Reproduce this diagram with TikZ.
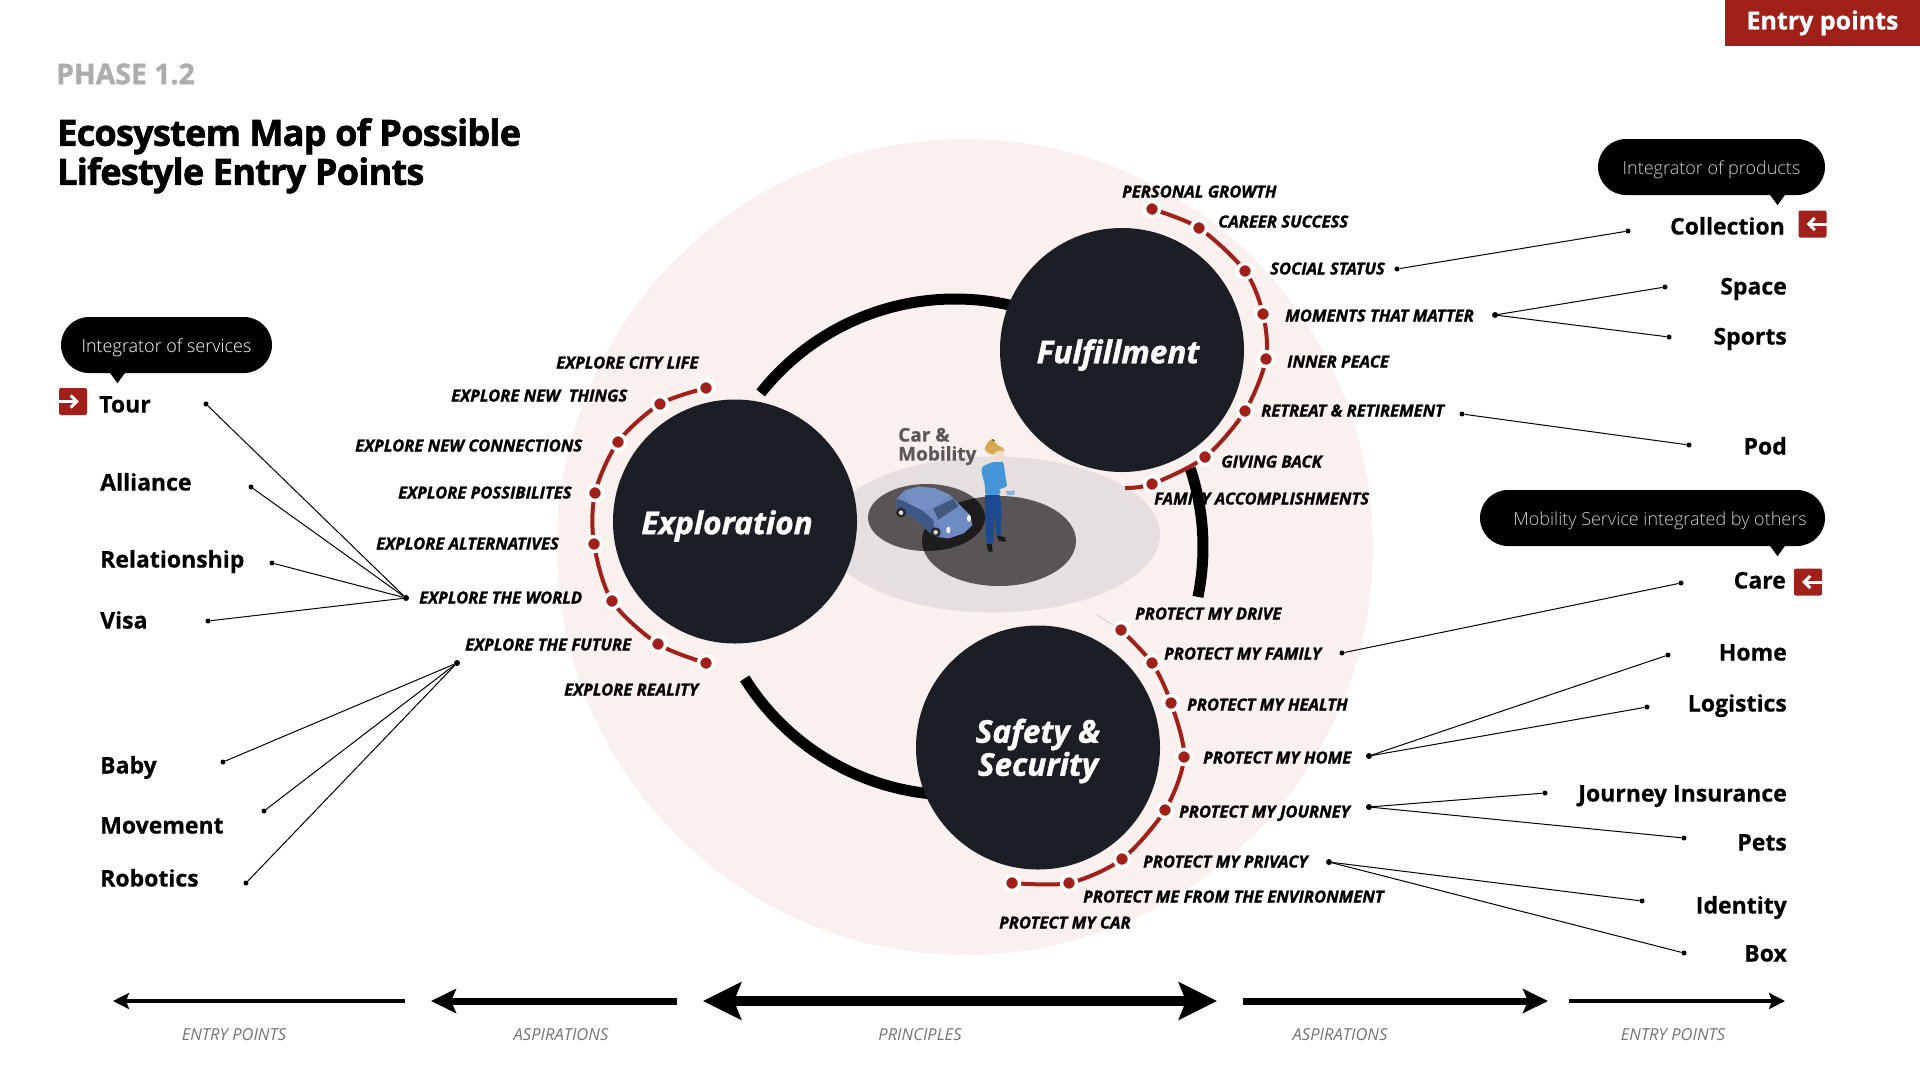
\documentclass[tikz,border=0pt]{standalone}
\usepackage{fontspec}
\setmainfont{Open Sans}
\newfontfamily\xbfont[BoldFeatures={FakeBold=1.2},BoldItalicFeatures={FakeBold=1.2}]{Open Sans}
\newfontfamily\entryfont[BoldFeatures={FakeBold=0.5}]{Open Sans}
\newfontfamily\titlefont[LetterSpace=-2,BoldFeatures={FakeBold=1.8}]{Open Sans}
\IfFontExistsTF{Open Sans Light}{\newfontfamily\lightfont{Open Sans Light}}{\newfontfamily\lightfont{Open Sans}}
\usetikzlibrary{arrows.meta,shapes.misc}
\definecolor{brickred}{HTML}{A2201A}
\definecolor{blushbg}{HTML}{FAF1EE}
\definecolor{nightfill}{HTML}{1B1E25}
\definecolor{lightdisc}{HTML}{E5DFDF}
\definecolor{greydisc}{HTML}{595556}
\definecolor{darkdisc}{HTML}{1E1C1D}
\definecolor{carbody}{HTML}{6C88BD}
\definecolor{carside}{HTML}{3F5784}
\definecolor{carroof}{HTML}{7590C4}
\definecolor{carglass}{HTML}{43587F}
\definecolor{carhood}{HTML}{6F8CC2}
\definecolor{hairtone}{HTML}{D8A752}
\definecolor{skintone}{HTML}{F2DCCB}
\definecolor{toptone}{HTML}{4596D8}
\definecolor{pantstone}{HTML}{1B4A8E}
\tikzset{
  x=1pt,y=-1pt,
  redarc/.style={draw=brickred,line width=4pt},
  reddot/.style={circle,fill=brickred,draw=white,line width=3.5pt,inner sep=0pt,minimum size=15pt},
  blackdot/.style={circle,fill=black,inner sep=0pt,minimum size=5pt},
  hubdot/.style={circle,fill=black,inner sep=0pt,minimum size=6pt},
  aspiration/.style={anchor=west,inner sep=0pt,text height=11pt,text depth=0pt,font=\fontsize{16.6}{17}\xbfont\bfseries\itshape},
  entrylabel/.style={inner sep=0pt,text height=17pt,text depth=0pt,font=\fontsize{23}{24}\entryfont\bfseries},
  leftentry/.style={entrylabel,anchor=west},
  rightentry/.style={entrylabel,anchor=east},
  hubcircle/.style={circle,fill=nightfill,inner sep=0pt,minimum size=244pt},
  hubname/.style={inner sep=0pt,text=white,align=center,font=\fontsize{31.5}{33}\xbfont\bfseries\itshape},
  bubble/.style={rounded rectangle,fill=black,inner sep=0pt,minimum height=56pt,text height=14pt,text depth=0pt,font=\fontsize{18}{20}\lightfont},
  iconbox/.style={rectangle,rounded corners=2pt,fill=brickred,inner sep=0pt,minimum width=28pt,minimum height=27pt},
  iconarrow/.style={draw=white,line width=3pt,-{Straight Barb[length=6pt,width=12pt]}},
  fanline/.style={draw=black,line width=1pt},
  axisname/.style={inner sep=0pt,text=black!55,font=\fontsize{16.5}{17}\itshape},
  blackring/.style={draw=black,line width=11pt},
}
\begin{document}
\begin{tikzpicture}
\useasboundingbox (0,0) rectangle (1920,1080);
\fill[white] (0,0) rectangle (1920,1080);
% backdrop
\fill[blushbg] (965,547) circle[radius=408];
\fill[lightdisc] (993,534.5) ellipse[x radius=167,y radius=78];
\fill[greydisc] (926.5,517.5) ellipse[x radius=58.5,y radius=33.5];
\fill[greydisc] (999,541) ellipse[x radius=77,y radius=45];
\begin{scope}
\clip (926.5,517.5) ellipse[x radius=58.5,y radius=33.5];
\fill[darkdisc] (999,541) ellipse[x radius=77,y radius=45];
\end{scope}
\node[aspiration] (familyacc) at (1154,499) {FAMILY ACCOMPLISHMENTS};
% ring
\draw[blackring] (955,547) ++(-141.6:248) arc[start angle=-141.6,end angle=-60,radius=248];
\draw[blackring] (955,547) ++(-18.5:248) arc[start angle=-18.5,end angle=11.6,radius=248];
\draw[blackring] (955,547) ++(148:248) arc[start angle=148,end angle=88,radius=248];
% hubs
\node[hubcircle] (exploration) at (735,521.5) {};
\node[hubcircle] (fulfillment) at (1122,350) {};
\node[hubcircle] (safety) at (1038,747.5) {};
\node[hubname] (explorationname) at (727,526) {Exploration};
\node[hubname] (fulfillmentname) at (1118,355) {Fulfillment};
\node[hubname] (safetyname) at (1038,751) {Safety \&\\Security};
% fulfillment arc
\coordinate (f0) at (1125,488);
\coordinate (f1) at (1152,484);
\coordinate (f2) at (1205,457);
\coordinate (f3) at (1245,411);
\coordinate (f4) at (1266,359);
\coordinate (f5) at (1263,314);
\coordinate (f6) at (1245,271);
\coordinate (f7) at (1199,228);
\coordinate (f8) at (1152,209);
\draw[redarc] plot[smooth] coordinates {(f0) (f1) (f2) (f3) (f4) (f5) (f6) (f7) (f8)};
\node[reddot] (fdot1) at (f1) {};
\node[reddot] (fdot2) at (f2) {};
\node[reddot] (fdot3) at (f3) {};
\node[reddot] (fdot4) at (f4) {};
\node[reddot] (fdot5) at (f5) {};
\node[reddot] (fdot6) at (f6) {};
\node[reddot] (fdot7) at (f7) {};
\node[reddot] (fdot8) at (f8) {};
% exploration arc
\coordinate (e1) at (706,388);
\coordinate (e2) at (660,404);
\coordinate (e3) at (618,442);
\coordinate (e4) at (595,493);
\coordinate (e5) at (594,544);
\coordinate (e6) at (612,601);
\coordinate (e7) at (658,644);
\coordinate (e8) at (706,663);
\draw[redarc] plot[smooth] coordinates {(e1) (e2) (e3) (e4) (e5) (e6) (e7) (e8)};
\node[reddot] (edot1) at (e1) {};
\node[reddot] (edot2) at (e2) {};
\node[reddot] (edot3) at (e3) {};
\node[reddot] (edot4) at (e4) {};
\node[reddot] (edot5) at (e5) {};
\node[reddot] (edot6) at (e6) {};
\node[reddot] (edot7) at (e7) {};
\node[reddot] (edot8) at (e8) {};
% safety arc
\coordinate (s0) at (1097,615);
\coordinate (s1) at (1121,630);
\coordinate (s2) at (1152,663);
\coordinate (s3) at (1171,703);
\coordinate (s4) at (1184,757);
\coordinate (s5) at (1165,810);
\coordinate (s6) at (1122,859);
\coordinate (s7) at (1069,883);
\coordinate (s8) at (1012,883);
\draw[brickred!25!blushbg,line width=0.6pt] (s0) -- (s1);
\draw[redarc] plot[smooth] coordinates {(s1) (s2) (s3) (s4) (s5) (s6) (s7) (s8)};
\node[reddot] (sdot1) at (s1) {};
\node[reddot] (sdot2) at (s2) {};
\node[reddot] (sdot3) at (s3) {};
\node[reddot] (sdot4) at (s4) {};
\node[reddot] (sdot5) at (s5) {};
\node[reddot] (sdot6) at (s6) {};
\node[reddot] (sdot7) at (s7) {};
\node[reddot] (sdot8) at (s8) {};
% car
\begin{scope}[shift={(885,475)},scale=1/3]
\fill[carbody] (35,70) -- (60,45) -- (100,35) -- (150,40) -- (195,60) -- (225,90) -- (255,120) -- (262,150) -- (235,175) -- (190,190) -- (150,185) -- (125,165) -- (105,145) -- (75,120) -- (45,125) -- (35,100) -- cycle;
\fill[carside] (35,70) -- (70,85) -- (110,105) -- (145,135) -- (150,185) -- (125,165) -- (105,145) -- (75,120) -- (45,125) -- (35,100) -- cycle;
\fill[carroof] (60,50) -- (100,35) -- (150,40) -- (195,60) -- (145,100) -- (110,105) -- (70,85) -- cycle;
\fill[carglass] (145,100) -- (205,72) -- (220,95) -- (160,135) -- cycle;
\fill[carhood] (160,135) -- (220,95) -- (255,120) -- (262,150) -- (235,175) -- (190,190) -- (165,170) -- cycle;
\fill[black!85] (48,113) circle[radius=15];
\fill[black!85] (152,172) circle[radius=15];
\fill[black!15] (48,113) circle[radius=7];
\fill[black!15] (152,172) circle[radius=7];
\fill[white] (190,165) ellipse[x radius=6,y radius=10];
\fill[white] (252,130) ellipse[x radius=6,y radius=10];
\end{scope}
% person
\begin{scope}[shift={(970,430)},scale=1/3]
\fill[black] (68,34) circle[radius=6];
\fill[hairtone,rounded corners=2pt] (42,60) -- (55,32) -- (70,28) -- (80,45) -- (103,55) -- (103,68) -- (85,65) -- (75,75) -- (60,72) -- cycle;
\fill[skintone,rounded corners=2pt] (75,64) -- (100,60) -- (102,85) -- (88,97) -- (72,94) -- cycle;
\fill[toptone,rounded corners=3pt] (35,110) -- (70,95) -- (88,98) -- (100,93) -- (105,130) -- (112,172) -- (95,172) -- (90,195) -- (45,195) -- (45,165) -- (35,130) -- cycle;
\fill[pantstone] (45,195) -- (90,195) -- (95,250) -- (92,315) -- (80,315) -- (72,255) -- (70,340) -- (50,342) -- (45,260) -- cycle;
\fill[black!90] (50,342) -- (65,342) -- (68,365) -- (55,365) -- cycle;
\fill[black!90] (80,316) -- (105,322) -- (108,335) -- (88,333) -- cycle;
\fill[skintone] (88,178) -- (110,172) -- (115,185) -- (95,190) -- cycle;
\fill[toptone!70!white] (108,183) -- (135,182) -- (132,195) -- (112,195) -- cycle;
\end{scope}
\node[anchor=west,inner sep=0pt,align=left,text=black!65,font=\fontsize{19}{19}\entryfont\bfseries] (carmobility) at (898,446.5) {Car \&\\Mobility};
% aspirations
\node[aspiration] (personal) at (1122,192) {PERSONAL GROWTH};
\node[aspiration] (career) at (1218,222) {CAREER SUCCESS};
\node[aspiration] (social) at (1270,269) {SOCIAL STATUS};
\node[aspiration] (moments) at (1285,316) {MOMENTS THAT MATTER};
\node[aspiration] (inner) at (1287,362) {INNER PEACE};
\node[aspiration] (retreat) at (1261,411) {RETREAT \& RETIREMENT};
\node[aspiration] (giving) at (1221,462) {GIVING BACK};
\node[aspiration] (drive) at (1135,614) {PROTECT MY DRIVE};
\node[aspiration] (family) at (1164,654) {PROTECT MY FAMILY};
\node[aspiration] (health) at (1187,705) {PROTECT MY HEALTH};
\node[aspiration] (home) at (1203,758) {PROTECT MY HOME};
\node[aspiration] (journey) at (1179,812) {PROTECT MY JOURNEY};
\node[aspiration] (privacy) at (1143,862) {PROTECT MY PRIVACY};
\node[aspiration] (environment) at (1083,897) {PROTECT ME FROM THE ENVIRONMENT};
\node[aspiration] (mycar) at (999,923) {PROTECT MY CAR};
\node[aspiration] (citylife) at (556,363) {EXPLORE CITY LIFE};
\node[aspiration] (newthings) at (451,396) {EXPLORE NEW \ THINGS};
\node[aspiration] (newconn) at (355,446) {EXPLORE NEW CONNECTIONS};
\node[aspiration] (possib) at (398,493) {EXPLORE POSSIBILITES};
\node[aspiration] (altern) at (376,544) {EXPLORE ALTERNATIVES};
\node[aspiration] (world) at (419,598) {EXPLORE THE WORLD};
\node[aspiration] (future) at (465,645) {EXPLORE THE FUTURE};
\node[aspiration] (reality) at (564,690) {EXPLORE REALITY};
% entry points, left
\node[leftentry] (tour) at (99,404) {Tour};
\node[leftentry] (alliance) at (100,482) {Alliance};
\node[leftentry] (relationship) at (100,559) {Relationship};
\node[leftentry] (visa) at (100,620) {Visa};
\node[leftentry] (baby) at (100,765) {Baby};
\node[leftentry] (movement) at (100,825) {Movement};
\node[leftentry] (robotics) at (100,878) {Robotics};
% entry points, right
\node[rightentry] (collection) at (1785,226) {Collection};
\node[rightentry] (space) at (1787,286) {Space};
\node[rightentry] (sports) at (1787,336) {Sports};
\node[rightentry] (pod) at (1787,446) {Pod};
\node[rightentry] (care) at (1786,580) {Care};
\node[rightentry] (homes) at (1787,652) {Home};
\node[rightentry] (logistics) at (1787,703) {Logistics};
\node[rightentry] (insurance) at (1787,793) {Journey Insurance};
\node[rightentry] (pets) at (1787,842) {Pets};
\node[rightentry] (identity) at (1787,905) {Identity};
\node[rightentry] (box) at (1787,953) {Box};
% fans, left
\node[hubdot] (worldhub) at (406,598) {};
\node[blackdot] (tourdot) at (206,404) {};
\node[blackdot] (alliancedot) at (251,487) {};
\node[blackdot] (reldot) at (272,563) {};
\node[blackdot] (visadot) at (208,621) {};
\draw[fanline] (worldhub) -- (tourdot);
\draw[fanline] (worldhub) -- (alliancedot);
\draw[fanline] (worldhub) -- (reldot);
\draw[fanline] (worldhub) -- (visadot);
\node[hubdot] (futurehub) at (457,663) {};
\node[blackdot] (babydot) at (223,762) {};
\node[blackdot] (movedot) at (264,811) {};
\node[blackdot] (robodot) at (246,883) {};
\draw[fanline] (futurehub) -- (babydot);
\draw[fanline] (futurehub) -- (movedot);
\draw[fanline] (futurehub) -- (robodot);
% fans, right
\node[blackdot] (socialdot) at (1397,269) {};
\node[blackdot] (colldot) at (1628,231) {};
\draw[fanline] (socialdot) -- (colldot);
\node[hubdot] (momentshub) at (1495,315) {};
\node[blackdot] (spacedot) at (1665,287) {};
\node[blackdot] (sportsdot) at (1669,337) {};
\draw[fanline] (momentshub) -- (spacedot);
\draw[fanline] (momentshub) -- (sportsdot);
\node[blackdot] (retreatdot) at (1462,414) {};
\node[blackdot] (poddot) at (1689,445) {};
\draw[fanline] (retreatdot) -- (poddot);
\node[blackdot] (familydot) at (1342,653) {};
\node[blackdot] (caredot) at (1681,583) {};
\draw[fanline] (familydot) -- (caredot);
\node[hubdot] (homehub) at (1369,756) {};
\node[blackdot] (homedot) at (1668,655) {};
\node[blackdot] (logdot) at (1647,707) {};
\draw[fanline] (homehub) -- (homedot);
\draw[fanline] (homehub) -- (logdot);
\node[hubdot] (journeyhub) at (1369,807) {};
\node[blackdot] (insdot) at (1545,793) {};
\node[blackdot] (petsdot) at (1684,838) {};
\draw[fanline] (journeyhub) -- (insdot);
\draw[fanline] (journeyhub) -- (petsdot);
\node[hubdot] (privacyhub) at (1329,862) {};
\node[blackdot] (identdot) at (1642,901) {};
\node[blackdot] (boxdot) at (1684,953) {};
\draw[fanline] (privacyhub) -- (identdot);
\draw[fanline] (privacyhub) -- (boxdot);
% bubbles
\node[bubble,minimum width=211pt,text=white] (servbubble) at (166.5,345) {Integrator of services};
\fill (servbubble.south) ++(-57,-1) -- ++(16,0) -- ++(-8,11) -- cycle;
\node[bubble,minimum width=227pt,text=black!18] (prodbubble) at (1711.5,167) {Integrator of products};
\fill (prodbubble.south) ++(58,-1) -- ++(16,0) -- ++(-8,11) -- cycle;
\node[bubble,minimum width=345pt,text=black!18] (mobbubble) at (1652.5,518) {\hspace*{15pt}Mobility Service integrated by others};
\fill (mobbubble.south) ++(117,-1) -- ++(16,0) -- ++(-8,11) -- cycle;
% icons
\node[iconbox] (touricon) at (73,401.5) {};
\draw[iconarrow] (touricon.west) -- ++(20,0);
\node[iconbox] (collicon) at (1812.5,224) {};
\draw[iconarrow] (collicon.east) -- ++(-20,0);
\node[iconbox] (careicon) at (1808,582) {};
\draw[iconarrow] (careicon.east) -- ++(-20,0);
% header
\node[rectangle,fill=brickred,inner sep=0pt,minimum width=195pt,minimum height=46pt,text=white,font=\fontsize{25}{26}\entryfont\bfseries] (entrytab) at (1822.5,23) {Entry points};
\node[anchor=west,inner sep=0pt,text=black!32,font=\fontsize{28.4}{29}\xbfont\bfseries] (phase) at (56,74) {PHASE 1.2};
\node[anchor=north west,inner sep=0pt,align=left,font=\fontsize{36}{39}\titlefont\bfseries] (title) at (57,118) {Ecosystem Map of Possible\\Lifestyle Entry Points};
% axis
\coordinate (a1) at (405,1001);
\coordinate (a2) at (113,1001);
\coordinate (a3) at (677,1001);
\coordinate (a4) at (431,1001);
\coordinate (a5) at (703,1001);
\coordinate (a6) at (1217,1001);
\coordinate (a7) at (1243,1001);
\coordinate (a8) at (1548,1001);
\coordinate (a9) at (1569,1001);
\coordinate (a10) at (1785,1001);
\draw[line width=3.5pt,-{Stealth[length=16pt,width=16pt,inset=3pt]}] (a1) -- (a2);
\draw[line width=7pt,-{Stealth[length=25pt,width=24pt,inset=5pt]}] (a3) -- (a4);
\draw[line width=10pt,{Stealth[length=38pt,width=37pt,inset=7pt]}-{Stealth[length=38pt,width=37pt,inset=7pt]}] (a5) -- (a6);
\draw[line width=7pt,-{Stealth[length=25pt,width=24pt,inset=5pt]}] (a7) -- (a8);
\draw[line width=3.5pt,-{Stealth[length=16pt,width=16pt,inset=3pt]}] (a9) -- (a10);
\node[axisname] (axis1) at (234,1035) {ENTRY POINTS};
\node[axisname] (axis2) at (561,1035) {ASPIRATIONS};
\node[axisname] (axis3) at (920,1035) {PRINCIPLES};
\node[axisname] (axis4) at (1340,1035) {ASPIRATIONS};
\node[axisname] (axis5) at (1673,1035) {ENTRY POINTS};
\end{tikzpicture}
\end{document}
